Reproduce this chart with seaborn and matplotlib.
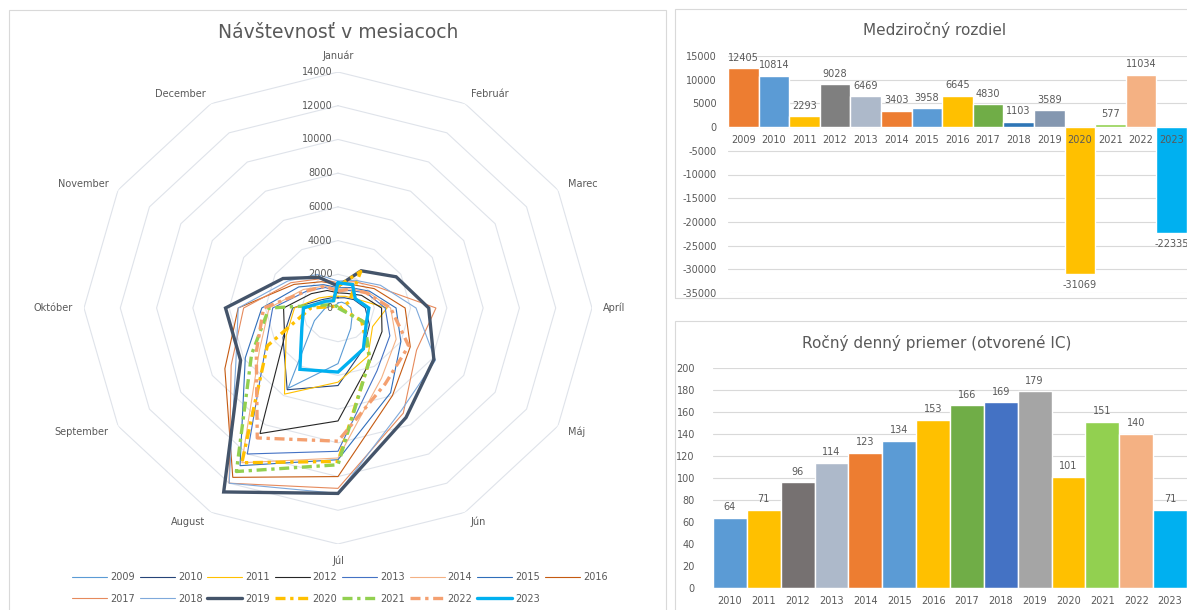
import numpy as np
import pandas as pd
import matplotlib
matplotlib.use('Agg')
import matplotlib.pyplot as plt
from matplotlib.patches import Rectangle
import seaborn as sns

# --- data -------------------------------------------------------------
months = ['Január', 'Február', 'Marec', 'Apríl', 'Máj', 'Jún', 'Júl',
          'August', 'September', 'Október', 'November', 'December']

years = ['2009', '2010', '2011', '2012', '2013', '2014', '2015', '2016',
         '2017', '2018', '2019', '2020', '2021', '2022', '2023']

# monthly visitors per year
v2009 = [300, 400, 500, 700, 900, 1400, 3300, 5500, 1500, 700, 300, 200]
v2010 = [600, 700, 1000, 1500, 2000, 2800, 4600, 5600, 3500, 2500, 1000, 700]
v2011 = [700, 800, 1100, 2700, 2200, 3300, 4400, 5900, 3300, 2400, 1200, 800]
v2012 = [900, 1000, 1500, 2400, 2800, 3600, 6700, 8600, 3400, 3000, 1700, 1200]
v2013 = [1000, 1200, 1800, 2600, 3300, 4300, 8500, 10000, 4600, 3600, 2000, 1400]
v2014 = [1100, 1300, 1900, 2900, 3700, 4800, 8900, 10600, 5000, 3800, 2200, 1500]
v2015 = [1200, 1400, 2000, 3200, 4000, 5800, 9000, 10800, 5900, 4200, 2500, 1600]
v2016 = [1400, 1600, 2300, 3700, 4600, 6000, 10000, 11600, 7200, 5500, 2800, 1800]
v2017 = [1500, 1800, 2500, 5400, 5000, 7200, 10700, 12000, 6800, 5200, 3000, 2000]
v2018 = [1600, 1900, 2700, 4300, 6200, 7000, 11000, 12000, 6500, 5500, 3200, 2300]
v2019 = [1300, 2550, 3700, 5000, 6100, 7500, 11000, 12600, 6200, 6200, 3500, 2100]
v2020 = [1300, 2500, 700, 100, 1500, 3500, 9100, 10600, 4500, 1500, 200, 500]
v2021 = [0, 0, 0, 0, 1700, 3500, 9300, 11200, 5500, 3800, 400, 100]
v2022 = [1000, 1300, 1800, 2900, 4500, 5200, 7900, 8900, 5200, 4100, 2000, 1500]
v2023 = [1500, 1600, 1100, 1700, 1800, 2800, 3800, 4200, 2300, 1900, 800, 500]

monthly = [v2009, v2010, v2011, v2012, v2013, v2014, v2015, v2016,
           v2017, v2018, v2019, v2020, v2021, v2022, v2023]

line_colors = ['#5B9BD5', '#264478', '#FFC000', '#262626', '#4472C4',
               '#F4B183', '#2F6EBA', '#C55A11', '#E68A5C', '#7FA9DB',
               '#44546A', '#FFC000', '#92D050', '#F4A070', '#00B0F0']

# year-over-year difference
diff_values = [12405, 10814, 2293, 9028, 6469, 3403, 3958, 6645, 4830,
               1103, 3589, -31069, 577, 11034, -22335]
diff_colors = ['#ED7D31', '#5B9BD5', '#FFC000', '#7F7F7F', '#ADB9CA',
               '#ED7D31', '#5B9BD5', '#FFC000', '#70AD47', '#2E75B6',
               '#8497B0', '#FFC000', '#92D050', '#F4B183', '#00B0F0']

# yearly daily average
avg_years = years[1:]
avg_values = [64, 71, 96, 114, 123, 134, 153, 166, 169, 179, 101, 151, 140, 71]
avg_colors = ['#5B9BD5', '#FFC000', '#767171', '#ADB9CA', '#ED7D31',
              '#5B9BD5', '#FFC000', '#70AD47', '#4472C4', '#A5A5A5',
              '#FFC000', '#92D050', '#F4B183', '#00B0F0']

TXT = '#595959'
GRID = '#D9D9D9'

sns.set_style('white')
plt.rcParams['font.family'] = ['DejaVu Sans']
plt.rcParams['axes.unicode_minus'] = False

W, H = 1187, 610
fig = plt.figure(figsize=(W / 100, H / 100), dpi=100)


def box(x0, y0, x1, y1):
    return [x0 / W, 1 - y1 / H, (x1 - x0) / W, (y1 - y0) / H]


# panel frames
for x0, y0, x1, y1 in [(9, 10, 666, 620), (675, 9, 1200, 298), (675, 321, 1200, 620)]:
    fig.add_artist(Rectangle((x0 / W, 1 - y1 / H), (x1 - x0) / W, (y1 - y0) / H,
                             transform=fig.transFigure, fill=False,
                             ec=GRID, lw=0.8))

# --- radar chart --------------------------------------------------------
ax = fig.add_axes(box(84, 72, 592, 544), projection='polar')
ax.set_aspect('auto')
ax.set_theta_zero_location('N')
ax.set_theta_direction(-1)
theta = np.linspace(0, 2 * np.pi, len(months), endpoint=False)
theta_c = np.r_[theta, theta[0]]

for r in range(2000, 14001, 2000):
    ax.plot(theta_c, [r] * len(theta_c), color='#DFE3EA', lw=0.8, zorder=0)

handles = []
for i, (yr, vals) in enumerate(zip(years, monthly)):
    df = pd.DataFrame({'theta': theta_c, 'value': list(vals) + [vals[0]]})
    thick = i >= 10
    sns.lineplot(data=df, x='theta', y='value', sort=False, estimator=None,
                 color=line_colors[i], linewidth=2.4 if thick else 0.8,
                 legend=False, ax=ax)
    ln = ax.lines[-1]
    ln.set_label(yr)
    ln.set_solid_joinstyle('miter')
    if yr in ('2020', '2021', '2022'):
        ln.set_dashes((3, 1.4, 1, 1.4))
    handles.append(ln)

ax.set_yticks([])
ax.set_ylim(0, 14000)
ax.grid(False)
ax.spines['polar'].set_visible(False)
ax.set_xticks([])
ax.set_xlabel('')
ax.set_ylabel('')

# month names just outside the outer ring
for t, name in zip(theta, months):
    s, c = np.sin(t), np.cos(t)
    if abs(s) < 0.1:
        ha = 'center'
        va = 'bottom' if c > 0 else 'top'
    else:
        ha = 'left' if s > 0 else 'right'
        va = 'center'
    ax.annotate(name, (t, 14000), xytext=(8 * s, 8 * c),
                textcoords='offset points', ha=ha, va=va, fontsize=7,
                color=TXT, annotation_clip=False)

for r in range(0, 14001, 2000):
    ax.annotate(str(r), (0, r), xytext=(-4, 0), textcoords='offset points',
                ha='right', va='center', fontsize=7, color=TXT)

fig.text(338 / W, 1 - 33 / H, 'Návštevnosť v mesiacoch', ha='center',
         va='center', fontsize=13.5, color=TXT)

# legend filled row by row
order = []
for j in range(7):
    order += [j, j + 8]
order.append(7)
leg = fig.legend([handles[k] for k in order], [years[k] for k in order],
                 ncol=8, loc='center', bbox_to_anchor=(340 / W, 1 - 588 / H),
                 frameon=False, fontsize=7, handlelength=3.6,
                 columnspacing=0.5, handletextpad=0.3, labelspacing=1.2)
for t in leg.get_texts():
    t.set_color(TXT)

# --- year-over-year difference -------------------------------------------
ax2 = fig.add_axes(box(728, 56, 1187, 293))
sns.barplot(x=years, y=diff_values, hue=years,
            palette=dict(zip(years, diff_colors)), width=1, saturation=1,
            legend=False, ax=ax2)
ax2.set_ylim(-35000, 15000)
ax2.set_xlim(-0.5, len(years) - 0.5)
ax2.set_yticks(range(-35000, 15001, 5000))
ax2.yaxis.grid(True, color=GRID, lw=0.8)
ax2.set_axisbelow(True)
ax2.set_xticks([])
for s in ax2.spines.values():
    s.set_visible(False)
ax2.tick_params(axis='y', length=0, pad=8, labelsize=7, labelcolor=TXT)
ax2.set_xlabel('')
ax2.set_ylabel('')
for i, v in enumerate(diff_values):
    ax2.annotate(str(v), (i, v), xytext=(0, 4 if v > 0 else -4),
                 textcoords='offset points', ha='center',
                 va='bottom' if v > 0 else 'top', fontsize=7, color=TXT,
                 annotation_clip=False)
    ax2.annotate(years[i], (i, 0), xytext=(0, -6), textcoords='offset points',
                 ha='center', va='top', fontsize=7, color=TXT, zorder=5)
fig.text(935 / W, 1 - 30 / H, 'Medziročný rozdiel', ha='center', va='center',
         fontsize=11, color=TXT)

# --- daily average ------------------------------------------------------
ax3 = fig.add_axes(box(713, 368, 1187, 588))
sns.barplot(x=avg_years, y=avg_values, hue=avg_years,
            palette=dict(zip(avg_years, avg_colors)), width=1, saturation=1,
            legend=False, ax=ax3)
ax3.set_ylim(0, 200)
ax3.set_xlim(-0.5, len(avg_years) - 0.5)
ax3.set_yticks(range(0, 201, 20))
ax3.yaxis.grid(True, color=GRID, lw=0.8)
ax3.set_axisbelow(True)
for s in ax3.spines.values():
    s.set_visible(False)
ax3.axhline(0, color=GRID, lw=0.8)
ax3.tick_params(axis='y', length=0, pad=13, labelsize=7, labelcolor=TXT)
ax3.tick_params(axis='x', length=0, pad=6, labelsize=7, labelcolor=TXT)
ax3.set_xlabel('')
ax3.set_ylabel('')
for i, v in enumerate(avg_values):
    ax3.annotate(str(v), (i, v), xytext=(0, 4), textcoords='offset points',
                 ha='center', va='bottom', fontsize=7, color=TXT)
fig.text(937 / W, 1 - 343 / H, 'Ročný denný priemer (otvorené IC)',
         ha='center', va='center', fontsize=11, color=TXT)

fig.savefig('out.png', dpi=100)
